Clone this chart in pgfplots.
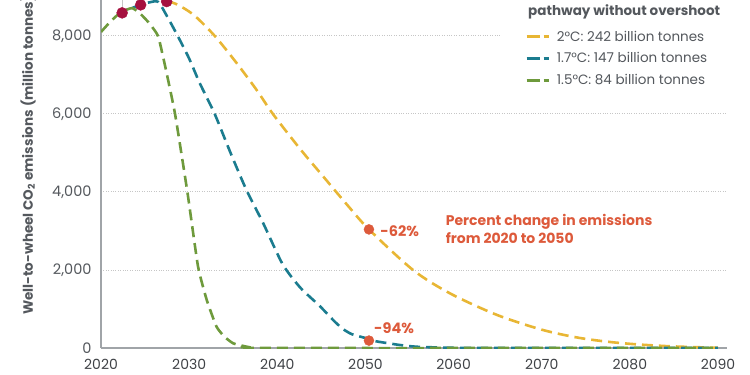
\documentclass[border=0pt]{standalone}
\usepackage{pgfplots}
\pgfplotsset{compat=1.18}
\usepackage{fontspec}
\setmainfont{Poppins}
\definecolor{cY}{HTML}{E8B634}
\definecolor{cT}{HTML}{1B7C8F}
\definecolor{cG}{HTML}{6E9A3C}
\definecolor{cO}{HTML}{DD5A3B}
\definecolor{cR}{HTML}{A5113F}
\definecolor{txt}{HTML}{54585D}
\definecolor{axc}{HTML}{A0A4A8}
\begin{document}
\begin{tikzpicture}
\begin{axis}[
  at={(101pt,27pt)}, anchor=south west,
  scale only axis, width=625.8pt, height=348pt,
  xmin=2020, xmax=2091, ymin=0, ymax=8920,
  axis x line=bottom, axis y line=left,
  axis line style={draw=axc, line width=1.2pt, -},
  major tick length=0pt,
  xtick={2020,2030,...,2090}, ytick={0,2000,4000,6000,8000},
  ymajorgrids, grid style={dotted, gray!45, line width=0.9pt},
  /pgf/number format/assume math mode=true,
  /pgf/number format/1000 sep={,},
  x tick label style={/pgf/number format/1000 sep={}, font=\fontsize{14}{16}\selectfont, text=txt!75!black, yshift=-8pt},
  y tick label style={font=\fontsize{14.5}{16}\selectfont, text=txt, xshift=-6pt},
  clip mode=individual,
  legend style={at={(axis description cs:0.6775,0.918)}, anchor=north west, draw=none, fill=white,
    inner sep=0pt, row sep=6pt, font=\fontsize{13.5}{16}\selectfont, text=txt,
    nodes={inner sep=2pt}, cells={anchor=west}},
  legend image code/.code={\draw[#1, solid, line width=2.8pt] (0pt,0pt) -- (13pt,0pt); \draw[#1, solid, line width=2.8pt] (17pt,0pt) -- (22pt,0pt); \path (27pt,0pt);},
]
\fill[white] (axis cs:2065.5,6600) rectangle (axis cs:2092,9000);
% 2C
\addplot[cY, line width=2.6pt, dash pattern=on 11pt off 6pt, smooth, tension=0.5] coordinates {
(2027.45,8880)(2028.5,8820)(2030.5,8540)(2032.9,8000)(2035.4,7300)(2037.7,6600)(2039.5,6000)(2042.6,5100)(2045.2,4400)(2048,3650)(2050.4,3040)(2055.4,2000)(2059.6,1400)(2064.9,850)(2070,470)(2074,270)(2077.5,160)(2081,90)(2085,40)(2090,5)};
\addlegendentry{2°C: 242 billion tonnes}
% 1.7C
\addplot[cT, line width=2.6pt, dash pattern=on 11pt off 6pt, smooth, tension=0.4] coordinates {
(2023.5,8710)(2024.5,8800)(2025.5,8860)(2026.5,8870)(2027.5,8500)(2028.7,8000)(2030,7420)(2031.2,6790)(2032.9,6000)(2034.7,5000)(2036.5,4050)(2038.4,3200)(2040.6,2150)(2042.6,1550)(2044.8,1080)(2046.5,680)(2047.5,480)(2048.5,350)(2050.1,250)(2051,180)(2053.9,77)(2056,30)(2060,5)(2065,0)(2090,0)};
\addlegendentry{1.7°C: 147 billion tonnes}
% 1.5C
\addplot[cG, line width=2.6pt, dash pattern=on 11pt off 6pt, smooth, tension=0.3] coordinates {
(2020,8100)(2021,8350)(2022,8560)(2023,8680)(2023.6,8710)(2024.5,8560)(2025.5,8320)(2026.3,8070)(2026.6,7900)(2027.3,7200)(2028.4,6000)(2029.8,4000)(2031,2100)(2032,1230)(2033.1,550)(2034,290)(2035,120)(2036.5,35)(2038,0)(2090,0)};
\addlegendentry{1.5°C: 84 billion tonnes}
% leader lines
\addplot[gray!45, line width=0.7pt, forget plot] coordinates {(2022.4,8590)(2022.4,8920)};
\addplot[gray!45, line width=0.7pt, forget plot] coordinates {(2024.5,8795)(2024.5,8920)};
\addplot[gray!45, line width=0.7pt, forget plot] coordinates {(2027.45,8880)(2027.45,8920)};
\addplot[only marks, mark=*, mark size=5.5pt, cR, forget plot] coordinates {(2022.4,8590)(2024.5,8795)(2027.45,8880)};
\addplot[only marks, mark=*, mark size=5pt, cO, forget plot] coordinates {(2050.4,3040)(2050.4,190)};
\node[anchor=west, text=cO, font=\bfseries\fontsize{14.5}{16}\selectfont] at (axis cs:2051.3,3000) {-62\%};
\node[anchor=west, text=cO, font=\bfseries\fontsize{14.5}{16}\selectfont] at (axis cs:2050.6,520) {-94\%};
\node[anchor=west, align=left, text=cO, font=\bfseries\fontsize{14}{18}\selectfont, inner sep=0pt] at (axis cs:2059.1,3050) {Percent change in emissions\\from 2020 to 2050};
\end{axis}
\node[anchor=west, inner sep=0pt, font=\bfseries\fontsize{13.5}{16}\selectfont, text=txt] at (528pt,363pt) {pathway without overshoot};
\node[rotate=90, anchor=west, inner sep=0pt, font=\bfseries\fontsize{13.5}{16}\selectfont, text=txt] at (28pt,60pt) {Well-to-wheel CO\textsubscript{2} emissions (million tonnes)};
\pgfresetboundingbox
\path[use as bounding box] (0,0) rectangle (750pt,375pt);
\end{tikzpicture}
\end{document}
